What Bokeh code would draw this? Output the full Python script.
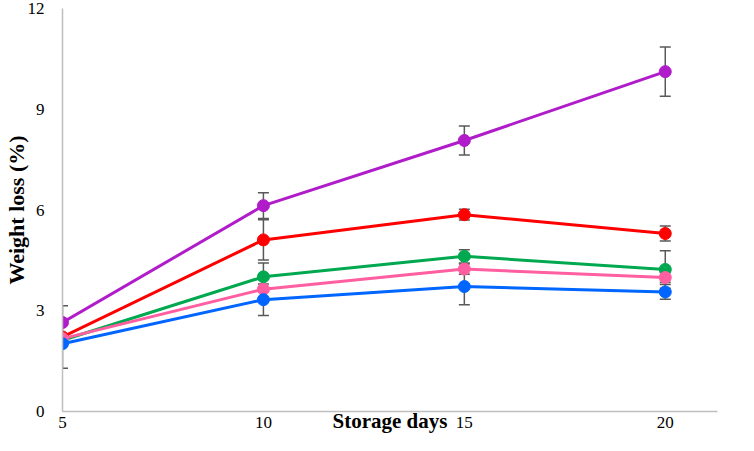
from bokeh.plotting import figure
from bokeh.models import ColumnDataSource, Whisker, TeeHead, FixedTicker, Range1d
from bokeh.embed import file_html
from bokeh.resources import INLINE

days = [5, 10, 15, 20]
tick_days = [5, 10, 15, 20]
y_ticks = [0, 3, 6, 9, 12]

purple = [2.65, 6.13, 8.07, 10.12]
purple_err = [0.0, 0.38, 0.43, 0.73]
red = [2.22, 5.11, 5.86, 5.30]
red_err = [0.93, 0.60, 0.16, 0.22]
green = [2.12, 4.01, 4.62, 4.23]
green_err = [0.0, 0.41, 0.20, 0.56]
pink = [2.17, 3.64, 4.24, 3.99]
pink_err = [0.0, 0.30, 0.15, 0.15]
blue = [2.02, 3.33, 3.72, 3.56]
blue_err = [0.0, 0.47, 0.54, 0.22]

series = [
    (purple, purple_err, "#B01CC9"),
    (red, red_err, "#FF0000"),
    (green, green_err, "#00A850"),
    (pink, pink_err, "#FF5FA0"),
    (blue, blue_err, "#0066FF"),
]

FONT = "'Times New Roman', 'Liberation Serif', serif"

p = figure(width=738, height=435, output_backend="svg", toolbar_location=None,
           x_range=Range1d(5, 21.3), y_range=Range1d(0, 12),
           min_border_left=40, min_border_right=21, min_border_top=8, min_border_bottom=20)
p.outline_line_color = None
p.xgrid.grid_line_color = None
p.ygrid.grid_line_color = None

# error bars first
for vals, errs, col in series:
    src = ColumnDataSource(dict(x=days, y=vals,
                                up=[v + e for v, e in zip(vals, errs)],
                                lo=[v - e for v, e in zip(vals, errs)]))
    w = Whisker(base="x", upper="up", lower="lo", source=src, dimension="height",
                line_color="#595959", line_width=1.5,
                upper_head=TeeHead(size=11, line_color="#595959", line_width=1.5),
                lower_head=TeeHead(size=11, line_color="#595959", line_width=1.5))
    p.add_layout(w)

for vals, errs, col in series:
    p.line(days, vals, line_color=col, line_width=3)
    p.scatter(days, vals, size=12, fill_color=col, line_color=col)

p.xaxis.ticker = FixedTicker(ticks=tick_days)
p.yaxis.ticker = FixedTicker(ticks=y_ticks)
for ax in (p.xaxis[0], p.yaxis[0]):
    ax.major_tick_line_color = None
    ax.minor_tick_line_color = None
    ax.major_tick_out = 0
    ax.major_tick_in = 0
    ax.major_label_text_font = FONT
    ax.major_label_text_font_size = "17px"
    ax.major_label_text_color = "#000000"
    ax.axis_line_color = "#BFBFBF"
    ax.axis_line_width = 1.5
    ax.axis_label_text_font = FONT
    ax.axis_label_text_font_style = "bold"
    ax.axis_label_text_color = "#000000"

p.xaxis.major_label_standoff = 5
p.yaxis.major_label_standoff = 18
p.yaxis.axis_label = "Weight loss (%)"
p.yaxis.axis_label_text_font_size = "22px"
p.yaxis.axis_label_standoff = -4
p.xaxis.axis_label = "Storage days"
p.xaxis.axis_label_text_font_size = "21px"
p.xaxis.axis_label_standoff = -22

open("out.html", "w").write(file_html(p, INLINE))
